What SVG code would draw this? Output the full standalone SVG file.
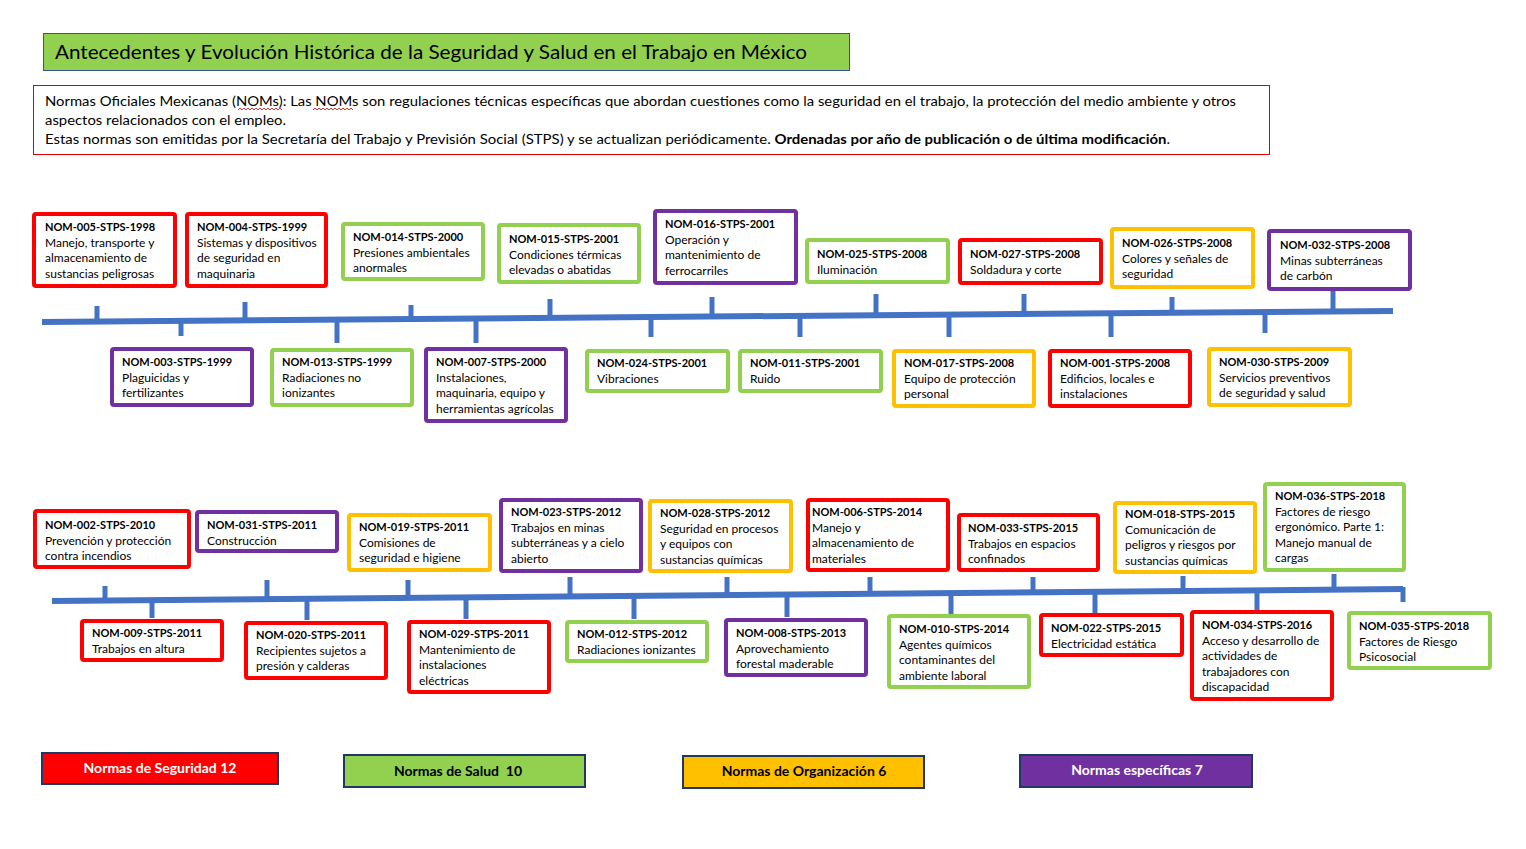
<svg xmlns="http://www.w3.org/2000/svg" width="1526" height="849" viewBox="0 0 1526 849">
<style>
text{font-family:Lato,"Liberation Sans",sans-serif;fill:#000}
.n text{font-size:12px}
.t{font-weight:bold;font-size:11px}
.box{fill:#fff;stroke-width:4}
.red{stroke:#FF0000}
.grn{stroke:#92D050}
.yel{stroke:#FFC000}
.pur{stroke:#7030A0}
.tl line{stroke:#4472C4;stroke-width:5}
.tl line.main{stroke-width:6}
.leg rect{stroke:#1F3864;stroke-width:2}
.leg text{font-size:14px;font-weight:bold;text-anchor:middle}
</style>
<rect width="1526" height="849" fill="#fff"/>
<g id="title">
<rect x="43.5" y="33.5" width="806" height="37" fill="#92D050" stroke="#2F5597" stroke-width="1"/>
<text x="55" y="59" font-size="20" textLength="752" lengthAdjust="spacingAndGlyphs" fill="#1a1a1a">Antecedentes y Evolución Histórica de la Seguridad y Salud en el Trabajo en México</text>
</g>
<g id="description">
<rect x="33.5" y="85.5" width="1236" height="69" fill="#fff" stroke="#E00000" stroke-width="1"/>
<text x="45" y="106" font-size="13.5" textLength="1191" lengthAdjust="spacingAndGlyphs">Normas Oficiales Mexicanas (NOMs): Las NOMs son regulaciones técnicas específicas que abordan cuestiones como la seguridad en el trabajo, la protección del medio ambiente y otros</text>
<text x="45" y="125" font-size="13.5" textLength="241" lengthAdjust="spacingAndGlyphs">aspectos relacionados con el empleo.</text>
<text x="45" y="144" font-size="13.5" textLength="1125" lengthAdjust="spacingAndGlyphs">Estas normas son emitidas por la Secretaría del Trabajo y Previsión Social (STPS) y se actualizan periódicamente. <tspan font-weight="bold">Ordenadas por año de publicación o de última modificación</tspan>.</text>
<path d="M238 110 l2 -2 l2 2 l2 -2 l2 2 l2 -2 l2 2 l2 -2 l2 2 l2 -2 l2 2 l2 -2 l2 2 l2 -2 l2 2 l2 -2 l2 2 l2 -2 l2 2 l2 -2 l2 2 l2 -2 l2 2" fill="none" stroke="#E00000" stroke-width="0.8"/>
<path d="M313 110 l2 -2 l2 2 l2 -2 l2 2 l2 -2 l2 2 l2 -2 l2 2 l2 -2 l2 2 l2 -2 l2 2 l2 -2 l2 2 l2 -2 l2 2 l2 -2 l2 2 l2 -2 l2 2" fill="none" stroke="#E00000" stroke-width="0.8"/>
</g>
<g id="connectors" class="tl">
<line class="main" x1="42" y1="322" x2="1393" y2="311"/>
<line x1="97" y1="306" x2="97" y2="322"/>
<line x1="245" y1="302" x2="245" y2="320"/>
<line x1="411" y1="305" x2="411" y2="319"/>
<line x1="550" y1="299" x2="550" y2="318"/>
<line x1="712" y1="297" x2="712" y2="317"/>
<line x1="876" y1="294" x2="876" y2="315"/>
<line x1="1024" y1="294" x2="1024" y2="314"/>
<line x1="1172" y1="297" x2="1172" y2="313"/>
<line x1="1333" y1="291" x2="1333" y2="312"/>
<line x1="181" y1="320" x2="181" y2="336"/>
<line x1="337" y1="318" x2="337" y2="343"/>
<line x1="476" y1="317" x2="476" y2="343"/>
<line x1="651" y1="316" x2="651" y2="337"/>
<line x1="800" y1="315" x2="800" y2="337"/>
<line x1="949" y1="314" x2="949" y2="337"/>
<line x1="1111" y1="312" x2="1111" y2="337"/>
<line x1="1265" y1="311" x2="1265" y2="333"/>
<line class="main" x1="52" y1="601" x2="1403" y2="589"/>
<line x1="105" y1="586" x2="105" y2="601"/>
<line x1="267" y1="580" x2="267" y2="599"/>
<line x1="408" y1="580" x2="408" y2="598"/>
<line x1="570" y1="577" x2="570" y2="597"/>
<line x1="727" y1="577" x2="727" y2="595"/>
<line x1="870" y1="577" x2="870" y2="594"/>
<line x1="1033" y1="577" x2="1033" y2="593"/>
<line x1="1183" y1="576" x2="1183" y2="591"/>
<line x1="1334" y1="574" x2="1334" y2="590"/>
<line x1="152" y1="599" x2="152" y2="618"/>
<line x1="307" y1="598" x2="307" y2="620"/>
<line x1="466" y1="596" x2="466" y2="619"/>
<line x1="634" y1="595" x2="634" y2="619"/>
<line x1="787" y1="594" x2="787" y2="617"/>
<line x1="951" y1="592" x2="951" y2="614"/>
<line x1="1095" y1="591" x2="1095" y2="613"/>
<line x1="1257" y1="590" x2="1257" y2="610"/>
<line x1="1403" y1="587" x2="1403" y2="602"/>
</g>
<g id="nom-005" class="n"><rect class="box red" x="34" y="214" width="141" height="72" rx="2"/><text x="45" y="231"><tspan class="t">NOM-005-STPS-1998</tspan><tspan x="45" dy="15.5">Manejo, transporte y</tspan><tspan x="45" dy="15.5">almacenamiento de</tspan><tspan x="45" dy="15.5">sustancias peligrosas</tspan></text></g>
<g id="nom-004" class="n"><rect class="box red" x="187" y="214" width="139" height="72" rx="2"/><text x="197" y="231"><tspan class="t">NOM-004-STPS-1999</tspan><tspan x="197" dy="15.5">Sistemas y dispositivos</tspan><tspan x="197" dy="15.5">de seguridad en</tspan><tspan x="197" dy="15.5">maquinaria</tspan></text></g>
<g id="nom-014" class="n"><rect class="box grn" x="343" y="224" width="140" height="55" rx="2"/><text x="353" y="241"><tspan class="t">NOM-014-STPS-2000</tspan><tspan x="353" dy="15.5">Presiones ambientales</tspan><tspan x="353" dy="15.5">anormales</tspan></text></g>
<g id="nom-015" class="n"><rect class="box grn" x="499" y="225" width="140" height="57" rx="2"/><text x="509" y="243"><tspan class="t">NOM-015-STPS-2001</tspan><tspan x="509" dy="15.5">Condiciones térmicas</tspan><tspan x="509" dy="15.5">elevadas o abatidas</tspan></text></g>
<g id="nom-016" class="n"><rect class="box pur" x="655" y="211" width="141" height="72" rx="2"/><text x="665" y="228"><tspan class="t">NOM-016-STPS-2001</tspan><tspan x="665" dy="15.5">Operación y</tspan><tspan x="665" dy="15.5">mantenimiento de</tspan><tspan x="665" dy="15.5">ferrocarriles</tspan></text></g>
<g id="nom-025" class="n"><rect class="box grn" x="807" y="240" width="141" height="42" rx="2"/><text x="817" y="258"><tspan class="t">NOM-025-STPS-2008</tspan><tspan x="817" dy="15.5">Iluminación</tspan></text></g>
<g id="nom-027" class="n"><rect class="box red" x="960" y="240" width="141" height="43" rx="2"/><text x="970" y="258"><tspan class="t">NOM-027-STPS-2008</tspan><tspan x="970" dy="15.5">Soldadura y corte</tspan></text></g>
<g id="nom-026" class="n"><rect class="box yel" x="1112" y="229" width="141" height="58" rx="2"/><text x="1122" y="247"><tspan class="t">NOM-026-STPS-2008</tspan><tspan x="1122" dy="15.5">Colores y señales de</tspan><tspan x="1122" dy="15.5">seguridad</tspan></text></g>
<g id="nom-032" class="n"><rect class="box pur" x="1269" y="231" width="141" height="58" rx="2"/><text x="1280" y="249"><tspan class="t">NOM-032-STPS-2008</tspan><tspan x="1280" dy="15.5">Minas subterráneas</tspan><tspan x="1280" dy="15.5">de carbón</tspan></text></g>
<g id="nom-003" class="n"><rect class="box pur" x="112" y="349" width="140" height="56" rx="2"/><text x="122" y="366"><tspan class="t">NOM-003-STPS-1999</tspan><tspan x="122" dy="15.5">Plaguicidas y</tspan><tspan x="122" dy="15.5">fertilizantes</tspan></text></g>
<g id="nom-013" class="n"><rect class="box grn" x="272" y="350" width="140" height="55" rx="2"/><text x="282" y="366"><tspan class="t">NOM-013-STPS-1999</tspan><tspan x="282" dy="15.5">Radiaciones no</tspan><tspan x="282" dy="15.5">ionizantes</tspan></text></g>
<g id="nom-007" class="n"><rect class="box pur" x="426" y="349" width="140" height="72" rx="2"/><text x="436" y="366"><tspan class="t">NOM-007-STPS-2000</tspan><tspan x="436" dy="15.5">Instalaciones,</tspan><tspan x="436" dy="15.5">maquinaria, equipo y</tspan><tspan x="436" dy="15.5">herramientas agrícolas</tspan></text></g>
<g id="nom-024" class="n"><rect class="box grn" x="587" y="351" width="141" height="40" rx="2"/><text x="597" y="367"><tspan class="t">NOM-024-STPS-2001</tspan><tspan x="597" dy="15.5">Vibraciones</tspan></text></g>
<g id="nom-011" class="n"><rect class="box grn" x="740" y="351" width="141" height="40" rx="2"/><text x="750" y="367"><tspan class="t">NOM-011-STPS-2001</tspan><tspan x="750" dy="15.5">Ruido</tspan></text></g>
<g id="nom-017" class="n"><rect class="box yel" x="894" y="351" width="140" height="55" rx="2"/><text x="904" y="367"><tspan class="t">NOM-017-STPS-2008</tspan><tspan x="904" dy="15.5">Equipo de protección</tspan><tspan x="904" dy="15.5">personal</tspan></text></g>
<g id="nom-001" class="n"><rect class="box red" x="1050" y="351" width="140" height="55" rx="2"/><text x="1060" y="367"><tspan class="t">NOM-001-STPS-2008</tspan><tspan x="1060" dy="15.5">Edificios, locales e</tspan><tspan x="1060" dy="15.5">instalaciones</tspan></text></g>
<g id="nom-030" class="n"><rect class="box yel" x="1209" y="349" width="141" height="56" rx="2"/><text x="1219" y="366"><tspan class="t">NOM-030-STPS-2009</tspan><tspan x="1219" dy="15.5">Servicios preventivos</tspan><tspan x="1219" dy="15.5">de seguridad y salud</tspan></text></g>
<g id="nom-002" class="n"><rect class="box red" x="35" y="511" width="154" height="56" rx="2"/><text x="45" y="529"><tspan class="t">NOM-002-STPS-2010</tspan><tspan x="45" dy="15.5">Prevención y protección</tspan><tspan x="45" dy="15.5">contra incendios</tspan></text></g>
<g id="nom-031" class="n"><rect class="box pur" x="197" y="512" width="140" height="39" rx="2"/><text x="207" y="529"><tspan class="t">NOM-031-STPS-2011</tspan><tspan x="207" dy="15.5">Construcción</tspan></text></g>
<g id="nom-019" class="n"><rect class="box yel" x="349" y="515" width="141" height="55" rx="2"/><text x="359" y="531"><tspan class="t">NOM-019-STPS-2011</tspan><tspan x="359" dy="15.5">Comisiones de</tspan><tspan x="359" dy="15.5">seguridad e higiene</tspan></text></g>
<g id="nom-023" class="n"><rect class="box pur" x="501" y="500" width="140" height="71" rx="2"/><text x="511" y="516"><tspan class="t">NOM-023-STPS-2012</tspan><tspan x="511" dy="15.5">Trabajos en minas</tspan><tspan x="511" dy="15.5">subterráneas y a cielo</tspan><tspan x="511" dy="15.5">abierto</tspan></text></g>
<g id="nom-028" class="n"><rect class="box yel" x="650" y="501" width="141" height="70" rx="2"/><text x="660" y="517"><tspan class="t">NOM-028-STPS-2012</tspan><tspan x="660" dy="15.5">Seguridad en procesos</tspan><tspan x="660" dy="15.5">y equipos con</tspan><tspan x="660" dy="15.5">sustancias químicas</tspan></text></g>
<g id="nom-006" class="n"><rect class="box red" x="808" y="500" width="140" height="70" rx="2"/><text x="812" y="516"><tspan class="t">NOM-006-STPS-2014</tspan><tspan x="812" dy="15.5">Manejo y</tspan><tspan x="812" dy="15.5">almacenamiento de</tspan><tspan x="812" dy="15.5">materiales</tspan></text></g>
<g id="nom-033" class="n"><rect class="box red" x="959" y="515" width="139" height="55" rx="2"/><text x="968" y="532"><tspan class="t">NOM-033-STPS-2015</tspan><tspan x="968" dy="15.5">Trabajos en espacios</tspan><tspan x="968" dy="15.5">confinados</tspan></text></g>
<g id="nom-018" class="n"><rect class="box yel" x="1115" y="503" width="140" height="69" rx="2"/><text x="1125" y="518"><tspan class="t">NOM-018-STPS-2015</tspan><tspan x="1125" dy="15.5">Comunicación de</tspan><tspan x="1125" dy="15.5">peligros y riesgos por</tspan><tspan x="1125" dy="15.5">sustancias químicas</tspan></text></g>
<g id="nom-036" class="n"><rect class="box grn" x="1265" y="484" width="139" height="86" rx="2"/><text x="1275" y="500"><tspan class="t">NOM-036-STPS-2018</tspan><tspan x="1275" dy="15.5">Factores de riesgo</tspan><tspan x="1275" dy="15.5">ergonómico. Parte 1:</tspan><tspan x="1275" dy="15.5">Manejo manual de</tspan><tspan x="1275" dy="15.5">cargas</tspan></text></g>
<g id="nom-009" class="n"><rect class="box red" x="82" y="621" width="140" height="39" rx="2"/><text x="92" y="637"><tspan class="t">NOM-009-STPS-2011</tspan><tspan x="92" dy="15.5">Trabajos en altura</tspan></text></g>
<g id="nom-020" class="n"><rect class="box red" x="246" y="623" width="140" height="55" rx="2"/><text x="256" y="639"><tspan class="t">NOM-020-STPS-2011</tspan><tspan x="256" dy="15.5">Recipientes sujetos a</tspan><tspan x="256" dy="15.5">presión y calderas</tspan></text></g>
<g id="nom-029" class="n"><rect class="box red" x="409" y="622" width="140" height="70" rx="2"/><text x="419" y="638"><tspan class="t">NOM-029-STPS-2011</tspan><tspan x="419" dy="15.5">Mantenimiento de</tspan><tspan x="419" dy="15.5">instalaciones</tspan><tspan x="419" dy="15.5">eléctricas</tspan></text></g>
<g id="nom-012" class="n"><rect class="box grn" x="567" y="622" width="140" height="39" rx="2"/><text x="577" y="638"><tspan class="t">NOM-012-STPS-2012</tspan><tspan x="577" dy="15.5">Radiaciones ionizantes</tspan></text></g>
<g id="nom-008" class="n"><rect class="box pur" x="726" y="620" width="140" height="55" rx="2"/><text x="736" y="637"><tspan class="t">NOM-008-STPS-2013</tspan><tspan x="736" dy="15.5">Aprovechamiento</tspan><tspan x="736" dy="15.5">forestal maderable</tspan></text></g>
<g id="nom-010" class="n"><rect class="box grn" x="889" y="616" width="140" height="71" rx="2"/><text x="899" y="633"><tspan class="t">NOM-010-STPS-2014</tspan><tspan x="899" dy="15.5">Agentes químicos</tspan><tspan x="899" dy="15.5">contaminantes del</tspan><tspan x="899" dy="15.5">ambiente laboral</tspan></text></g>
<g id="nom-022" class="n"><rect class="box red" x="1041" y="615" width="141" height="40" rx="2"/><text x="1051" y="632"><tspan class="t">NOM-022-STPS-2015</tspan><tspan x="1051" dy="15.5">Electricidad estática</tspan></text></g>
<g id="nom-034" class="n"><rect class="box red" x="1192" y="612" width="140" height="87" rx="2"/><text x="1202" y="629"><tspan class="t">NOM-034-STPS-2016</tspan><tspan x="1202" dy="15.5">Acceso y desarrollo de</tspan><tspan x="1202" dy="15.5">actividades de</tspan><tspan x="1202" dy="15.5">trabajadores con</tspan><tspan x="1202" dy="15.5">discapacidad</tspan></text></g>
<g id="nom-035" class="n"><rect class="box grn" x="1349" y="613" width="141" height="55" rx="2"/><text x="1359" y="630"><tspan class="t">NOM-035-STPS-2018</tspan><tspan x="1359" dy="15.5">Factores de Riesgo</tspan><tspan x="1359" dy="15.5">Psicosocial</tspan></text></g>
<g id="legend-seguridad" class="leg"><rect x="42" y="753" width="236" height="31" fill="#FF0000"/><text x="160" y="773" style="fill:#fff">Normas de Seguridad 12</text></g>
<g id="legend-salud" class="leg"><rect x="344" y="755" width="241" height="32" fill="#92D050"/><text x="458" y="776" xml:space="preserve">Normas de Salud  10</text></g>
<g id="legend-organizacion" class="leg"><rect x="683" y="756" width="241" height="32" fill="#FFC000"/><text x="804" y="776">Normas de Organización 6</text></g>
<g id="legend-especificas" class="leg"><rect x="1020" y="755" width="232" height="32" fill="#7030A0"/><text x="1137" y="775" style="fill:#fff">Normas específicas 7</text></g>
</svg>
